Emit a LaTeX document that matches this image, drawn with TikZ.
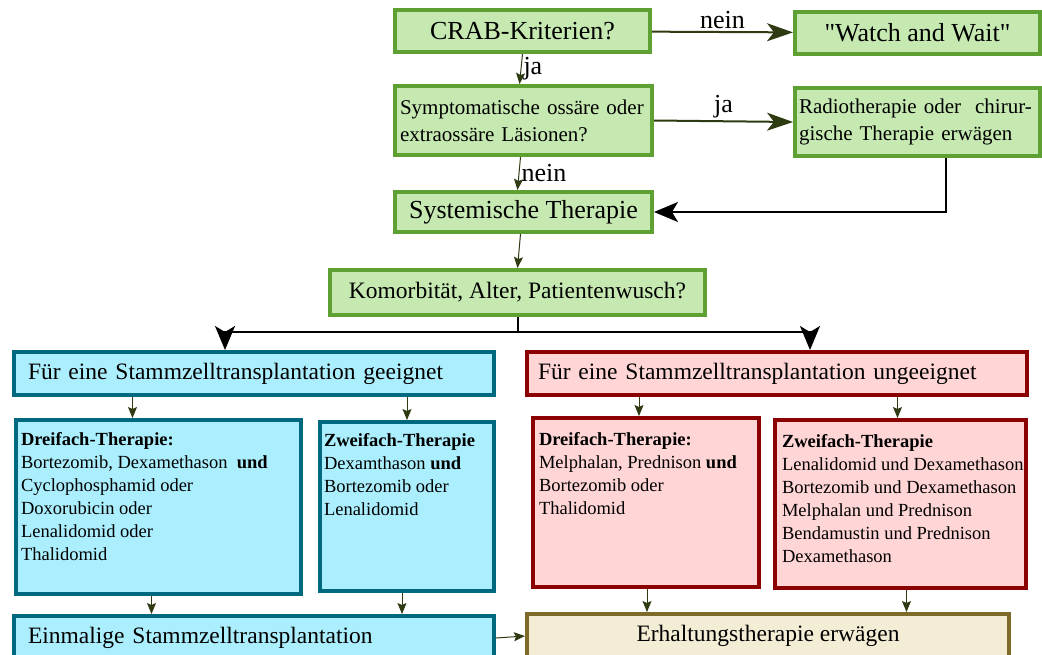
\documentclass[tikz,border=0pt]{standalone}
\usepackage{fontspec}
\setmainfont{Liberation Serif}[Ligatures=TeXOff]
\usetikzlibrary{arrows.meta,positioning}

\definecolor{grnfill}{HTML}{C6E9B2}
\definecolor{grnline}{HTML}{5FA033}
\definecolor{cyanfill}{HTML}{ABEEFD}
\definecolor{cyanline}{HTML}{00687F}
\definecolor{redfill}{HTML}{FFD5D5}
\definecolor{redline}{HTML}{8B0000}
\definecolor{beigefill}{HTML}{F3EDD6}
\definecolor{beigeline}{HTML}{7E6B2A}
\definecolor{arrowdark}{HTML}{2E3B12}

\newcommand{\fsbig}{\fontsize{26}{30}\selectfont}
\newcommand{\fsmed}{\fontsize{23.5}{28}\selectfont}
\newcommand{\fsmid}{\fontsize{21}{27}\selectfont}
\newcommand{\fslist}{\fontsize{18.5}{23}\selectfont}
\newcommand{\listtext}[3]{\parbox[t][#1][t]{#2}{\fslist\setlength{\tabcolsep}{0pt}\begin{tabular}[t]{l}#3\end{tabular}}}

\tikzset{
  greenbox/.style={draw=grnline, fill=grnfill, line width=4pt, inner sep=0pt},
  cyanbox/.style={draw=cyanline, fill=cyanfill, line width=4pt, inner sep=0pt},
  redbox/.style={draw=redline, fill=redfill, line width=4pt, inner sep=0pt},
  beigebox/.style={draw=beigeline, fill=beigefill, line width=4pt, inner sep=0pt},
  bigarrow/.style={draw=arrowdark, line width=2pt, -{Stealth[length=26pt,width=18pt,inset=7pt]}},
  splitarrow/.style={draw=black, line width=2pt, -{Stealth[length=24pt,width=20pt,inset=6pt]}},
  smallarrow/.style={draw=arrowdark, line width=1pt, -{Stealth[length=11pt,width=9pt,inset=2pt]}},
  arrowlabel/.style={font=\fsbig, inner sep=2pt, text=black},
}

\begin{document}
\begin{tikzpicture}[x=1pt, y=-1pt]
\useasboundingbox (0,0) rectangle (1042,654);

\node[greenbox, minimum width=255pt, minimum height=42pt, font=\fsbig] (crab) at (522.5,31) {CRAB-Kriterien?};
\node[greenbox, minimum width=245pt, minimum height=42pt, font=\fsbig] (watch) at (917.5,33) {"Watch and Wait"};
\node[greenbox, minimum width=257pt, minimum height=69pt, text width=247pt, inner xsep=5pt, align=left, font=\fsmid] (symp) at (523.5,120.5) {Symptomatische ossäre oder\\extraossäre Läsionen?};
\node[greenbox, minimum width=245pt, minimum height=68pt, text width=237pt, inner xsep=4pt, align=left, font=\fsmid] (radio) at (917.5,122) {Radiotherapie oder~ chirur-\\gische Therapie erwägen};
\node[greenbox, minimum width=257pt, minimum height=40pt, font=\fsbig] (syst) at (523.5,212) {Systemische Therapie};
\node[greenbox, minimum width=375pt, minimum height=45pt, font=\fsmed] (komorb) at (517.5,292.5) {Komorbität, Alter, Patientenwusch?};

\node[cyanbox, minimum width=480pt, minimum height=43pt, text width=452pt, inner xsep=14pt, align=left, font=\fsmed] (geeig) at (254,373.5) {Für eine Stammzelltransplantation geeignet};
\node[redbox, minimum width=500pt, minimum height=43pt, text width=478pt, inner xsep=11pt, align=left, font=\fsmed] (ungeeig) at (777,373.5) {Für eine Stammzelltransplantation ungeeignet};

\node[cyanbox, anchor=north west, inner xsep=5pt, inner ysep=9pt] (drei1) at (14,418) {\listtext{156pt}{275pt}{\textbf{Dreifach-Therapie:}\\ Bortezomib, Dexamethason~ \textbf{und}\\ Cyclophosphamid oder\\ Doxorubicin oder\\ Lenalidomid oder\\ Thalidomid}};
\node[cyanbox, anchor=north west, inner xsep=4pt, inner ysep=8pt] (zwei1) at (318,420) {\listtext{153pt}{166pt}{\textbf{Zweifach-Therapie}\\ Dexamthason \textbf{und}\\ Bortezomib oder\\ Lenalidomid}};
\node[redbox, anchor=north west, inner xsep=6pt, inner ysep=11pt] (drei2) at (531,416) {\listtext{147pt}{214pt}{\textbf{Dreifach-Therapie:}\\ Melphalan, Prednison \textbf{und}\\ Bortezomib oder\\ Thalidomid}};
\node[redbox, anchor=north west, inner xsep=7pt, inner ysep=11pt] (zwei2) at (773,418) {\listtext{146pt}{237pt}{\textbf{Zweifach-Therapie}\\ Lenalidomid und Dexamethason\\ Bortezomib und Dexamethason\\ Melphalan und Prednison\\ Bendamustin und Prednison\\ Dexamethason}};

\node[cyanbox, anchor=north west, minimum width=480pt, minimum height=44pt, text width=452pt, inner xsep=14pt, align=left, font=\fsmed] (einm) at (12,614) {Einmalige Stammzelltransplantation};
\node[beigebox, anchor=north west, minimum width=482pt, minimum height=44pt, font=\fsmed] (erh) at (525,612) {Erhaltungstherapie erwägen};

\draw[bigarrow] (crab) -- node[above, arrowlabel] {nein} (watch);
\draw[smallarrow] (crab.south) -- node[right, arrowlabel] {ja} ([xshift=-4pt]symp.north);
\draw[bigarrow] (symp.east) -- node[above, arrowlabel] {ja} (radio.west);
\draw[smallarrow] ([xshift=-3pt]symp.south) -- node[right, arrowlabel] {nein} ([xshift=-6pt]syst.north);
\draw[splitarrow] ([xshift=28pt]radio.south) |- (syst.east);
\draw[smallarrow] ([xshift=-3pt]syst.south) -- (komorb.north);

\coordinate (split) at (517.5,332);
\draw[line width=2pt] (komorb.south) -- (split);
\draw[splitarrow] (split) -| ([xshift=-29pt]geeig.north);
\draw[splitarrow] (split) -| ([xshift=33pt]ungeeig.north);

\draw[smallarrow] ([xshift=-26pt]drei1.north |- geeig.south) -- ([xshift=-26pt]drei1.north);
\draw[smallarrow] (zwei1.north |- geeig.south) -- (zwei1.north);
\draw[smallarrow] ([xshift=-7pt]drei2.north |- ungeeig.south) -- ([xshift=-7pt]drei2.north);
\draw[smallarrow] ([xshift=-3pt]zwei2.north |- ungeeig.south) -- ([xshift=-3pt]zwei2.north);

\draw[smallarrow] ([xshift=-7pt]drei1.south) -- ([xshift=-7pt]drei1.south |- einm.north);
\draw[smallarrow] ([xshift=-5pt]zwei1.south) -- ([xshift=-5pt]zwei1.south |- einm.north);
\draw[smallarrow] ([xshift=1pt]drei2.south) -- ([xshift=1pt]drei2.south |- erh.north);
\draw[smallarrow] ([xshift=6pt]zwei2.south) -- ([xshift=6pt]zwei2.south |- erh.north);
\draw[smallarrow] (einm.east) -- (erh.west);
\end{tikzpicture}
\end{document}
